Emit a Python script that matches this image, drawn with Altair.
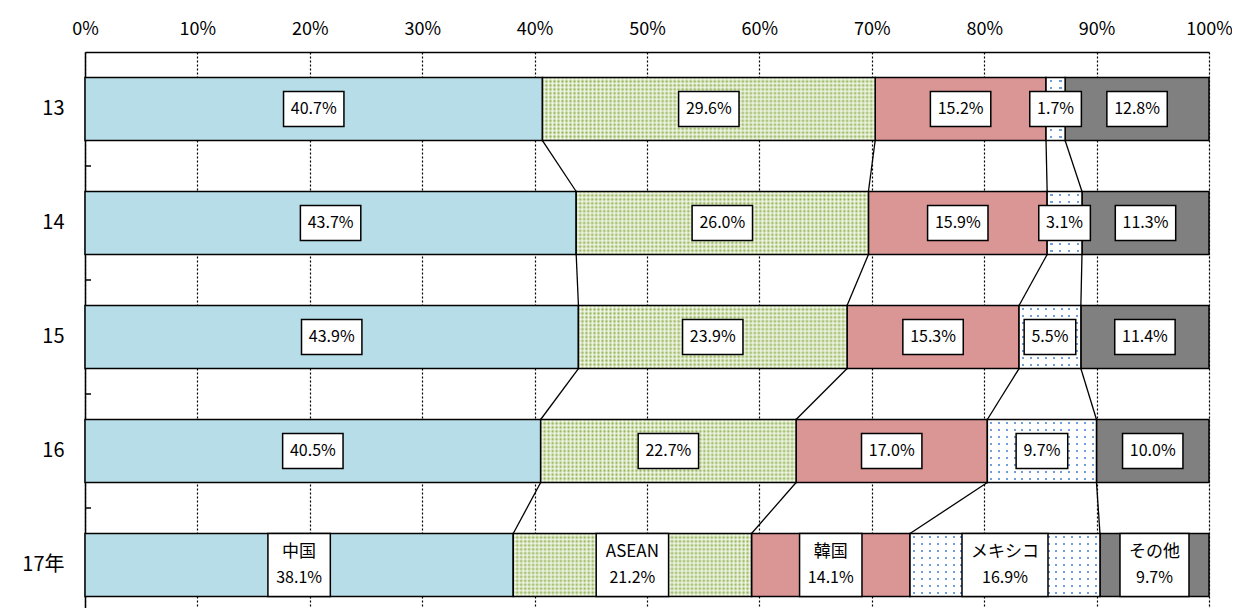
import altair as alt
import pandas as pd

# ---------------- data ----------------
years = ["13", "14", "15", "16", "17年"]
categories = ["中国", "ASEAN", "韓国", "メキシコ", "その他"]
china = [40.7, 43.7, 43.9, 40.5, 38.1]
asean = [29.6, 26.0, 23.9, 22.7, 21.2]
korea = [15.2, 15.9, 15.3, 17.0, 14.1]
mexico = [1.7, 3.1, 5.5, 9.7, 16.9]
other = [12.8, 11.3, 11.4, 10.0, 9.7]
x_ticks = [0, 10, 20, 30, 40, 50, 60, 70, 80, 90, 100]

series = [china, asean, korea, mexico, other]

# ---------------- style ----------------
FONT = "Noto Sans CJK JP"
W, H = 1124, 556
BAR_PX = 63
COLORS = {"中国": "#B7DEE8", "韓国": "#DA9694", "その他": "#808080"}
GREEN = "#8FB04F"
GREEN_LIGHT = "#DDE8C6"
BLUE_DOT = "#6E9FDB"
CLEAR = "rgba(255,255,255,0)"
SOFT_WHITE = "rgba(255,255,255,0.75)"


def text_w(s, size=16):
    w = 0
    for ch in s:
        if ord(ch) > 0x2E80:
            w += size
        elif ch == ".":
            w += 0.27 * size
        elif ch == "%":
            w += 0.85 * size
        elif ch.isupper():
            w += 0.64 * size
        else:
            w += 0.55 * size
    return w


def box_path(w, h):
    return f"M{-w/2:.1f},{-h/2:.1f}H{w/2:.1f}V{h/2:.1f}H{-w/2:.1f}Z"


last = years[-1]
rows = []
for i, y in enumerate(years):
    total = sum(s[i] for s in series)
    cum = 0.0
    for c, s in zip(categories, series):
        v = s[i]
        start = cum / total * 100
        cum += v
        end = cum / total * 100
        pct = f"{v:.1f}%"
        if y == last:
            bw = max(text_w(c, 17), text_w(pct)) + 18
            bh = BAR_PX
        else:
            bw = text_w(pct) + 16
            bh = 35
        rows.append(dict(year=y, category=c, start=start, end=end, mid=(start + end) / 2,
                         pct=pct, box=box_path(bw, bh),
                         px=(end - start) / 100 * W))
df = pd.DataFrame(rows)

# connectors between consecutive bars
conn = []
for i in range(len(years) - 1):
    a = df[df["year"] == years[i]].reset_index(drop=True)
    b = df[df["year"] == years[i + 1]].reset_index(drop=True)
    for k in range(len(categories) - 1):
        conn.append(dict(ya=years[i], yb=years[i + 1], xa=a["end"][k], xb=b["end"][k]))
conn_df = pd.DataFrame(conn)
tick_df = pd.DataFrame({"year": years[1:]})

# ---------------- scales / encodings ----------------
xscale = alt.Scale(domain=[0, 100], nice=False, zero=False)
yscale = alt.Scale(domain=years, paddingInner=0.447, paddingOuter=0.162, align=0.69)
xaxis = alt.Axis(orient="top", values=x_ticks, labelExpr="datum.value + '%'", title=None,
                 grid=True, gridDash=[2, 2], gridColor="black", gridOpacity=1, gridWidth=1.2,
                 ticks=False, domainColor="black", domainWidth=1.5, labelFontSize=18,
                 labelPadding=14, labelFont=FONT, labelColor="black",
                 labelFlush=False, labelOverlap=False, labelBound=False)
yaxis = alt.Axis(title=None, ticks=False, domainColor="black", domainWidth=1.5,
                 labelFontSize=20, labelPadding=21, labelFont=FONT, labelColor="black",
                 labelAngle=0)


def X(f):
    return alt.X(f"{f}:Q", scale=xscale, axis=xaxis)


def Y(f, **kw):
    return alt.Y(f"{f}:N", scale=yscale, axis=yaxis, sort=years, **kw)


def grad(stops, along_x):
    return {"gradient": "linear", "x1": 0, "y1": 0,
            "x2": 1 if along_x else 0, "y2": 0 if along_x else 1,
            "stops": [{"offset": round(o, 5), "color": c} for o, c in stops]}


def hard_stripes(n, frac, line, bg, along_x):
    n = max(1, int(round(n)))
    stops = []
    for j in range(n):
        c0 = (j + 0.5 - frac / 2) / n
        c1 = (j + 0.5 + frac / 2) / n
        stops += [(j / n, bg), (c0, bg), (c0, line), (c1, line), (c1, bg)]
    stops.append((1.0, bg))
    return grad(stops, along_x)


def soft_stripes(n, line, bg, along_x):
    n = max(1, int(round(n)))
    stops = []
    for j in range(n):
        stops += [(j / n, bg), ((j + 0.5) / n, line)]
    stops.append((1.0, bg))
    return grad(stops, along_x)


base = alt.Chart(df)
layers = []

solid = base.transform_filter(alt.FieldOneOfPredicate(field="category", oneOf=list(COLORS))).mark_bar(
    stroke="black", strokeWidth=1.5).encode(
    x=X("start"), x2="end", y=Y("year"),
    color=alt.Color("category:N", scale=alt.Scale(domain=list(COLORS), range=list(COLORS.values())),
                    legend=None))
layers.append(solid)

for _, r in df.iterrows():
    yv, cv, px = r["year"], r["category"], r["px"]
    filt = (alt.datum.year == yv) & (alt.datum.category == cv)
    if cv == "ASEAN":
        g1 = soft_stripes(BAR_PX / 4, GREEN_LIGHT, GREEN, False)
        g2 = soft_stripes(px / 4, SOFT_WHITE, CLEAR, True)
    elif cv == "メキシコ":
        g1 = hard_stripes(px / 8, 2.0 / 8, BLUE_DOT, "white", True)
        g2 = hard_stripes(BAR_PX / 7, 2.0 / 7, CLEAR, "white", False)
    else:
        continue
    layers.append(base.transform_filter(filt).mark_bar(fill=g1, strokeWidth=0).encode(
        x=X("start"), x2="end", y=Y("year")))
    layers.append(base.transform_filter(filt).mark_bar(fill=g2, stroke="black", strokeWidth=1.5).encode(
        x=X("start"), x2="end", y=Y("year")))

connectors = alt.Chart(conn_df).mark_rule(color="black", strokeWidth=1.3).encode(
    x=X("xa"), x2="xb", y=Y("ya", bandPosition=1), y2=alt.Y2("yb:N", bandPosition=0))
layers.append(connectors)

ticks = alt.Chart(tick_df).mark_rule(color="black", strokeWidth=1.5, yOffset=-25.5).encode(
    y=Y("year", bandPosition=0), x=alt.value(0), x2=alt.value(6))
layers.append(ticks)

boxes = base.mark_point(filled=True, fill="white", stroke="black", strokeWidth=1.5,
                        opacity=1, size=4).encode(
    x=X("mid"), y=Y("year"), shape=alt.Shape("box:N", scale=None, legend=None))
layers.append(boxes)

not_last = alt.datum.year != last
is_last = alt.datum.year == last

texts = base.transform_filter(not_last).mark_text(
    font=FONT, fontSize=16, color="black", align="center", baseline="middle").encode(
    x=X("mid"), y=Y("year"), text="pct:N")
layers.append(texts)

names = base.transform_filter(is_last).mark_text(
    font=FONT, fontSize=17, color="black", align="center", baseline="middle", dy=-13).encode(
    x=X("mid"), y=Y("year"), text="category:N")
layers.append(names)

pcts = base.transform_filter(is_last).mark_text(
    font=FONT, fontSize=16, color="black", align="center", baseline="middle", dy=13).encode(
    x=X("mid"), y=Y("year"), text="pct:N")
layers.append(pcts)

chart = alt.layer(*layers).properties(
    width=W, height=H, autosize="none",
    padding={"left": 77, "top": 44, "right": 23, "bottom": 0},
).configure_view(stroke=None).configure(background="white")

chart.save("out.html", embed_options={"renderer": "svg", "actions": False})
